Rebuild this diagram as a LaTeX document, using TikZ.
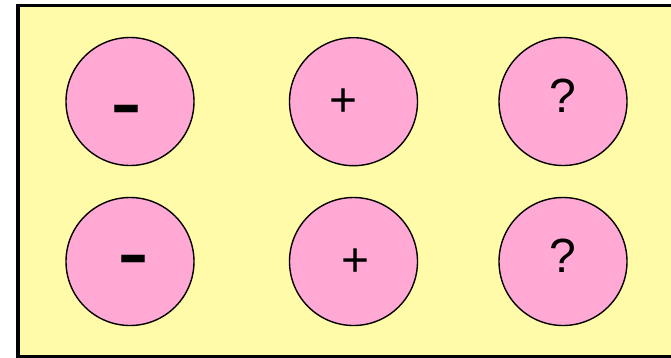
\documentclass[tikz,border=0pt]{standalone}
\usepackage{fontspec}
\setmainfont{Liberation Sans}
\definecolor{bgyellow}{RGB}{255,251,168}
\definecolor{ballpink}{RGB}{255,169,212}
\begin{document}
\begin{tikzpicture}[x=1pt,y=-1pt,
  ball/.style={circle,draw=black,line width=1.4pt,fill=ballpink,minimum size=128pt,inner sep=0pt},
  sym/.style={inner sep=0pt,anchor=base,font=\fontsize{48}{48}\selectfont},
  bigsym/.style={inner sep=0pt,anchor=base,font=\fontsize{96}{96}\selectfont}]
\useasboundingbox (0,0) rectangle (671,357);
\clip (0,0) rectangle (671,357);
\draw[line width=3.5pt,fill=bgyellow] (18,5.5) rectangle (690,356.75);
\node[ball] (b1) at (130,101.5) {};
\node[ball] (b2) at (353.5,101.7) {};
\node[ball] (b3) at (563,101.5) {};
\node[ball] (b4) at (130,261.5) {};
\node[ball] (b5) at (353.5,261.5) {};
\node[ball] (b6) at (563,261.5) {};
\node[bigsym] (t1) at (126,134) {-};
\node[sym] (t2) at (343.3,116.6) {+};
\node[sym] (t3) at (563,112.7) {?};
\node[bigsym] (t4) at (133,284) {-};
\node[sym] (t5) at (355.3,276.6) {+};
\node[sym] (t6) at (563,272.7) {?};
\end{tikzpicture}
\end{document}
